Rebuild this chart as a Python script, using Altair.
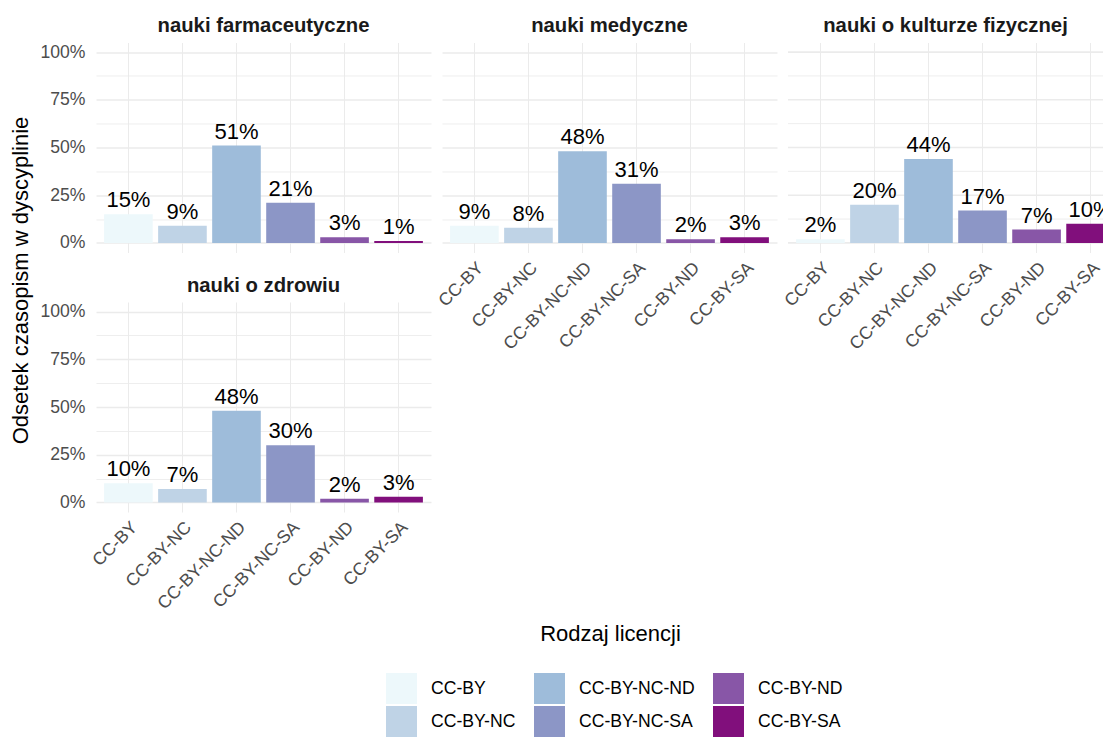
import altair as alt
import pandas as pd

licenses = ["CC-BY", "CC-BY-NC", "CC-BY-NC-ND", "CC-BY-NC-SA", "CC-BY-ND", "CC-BY-SA"]
disciplines = ["nauki farmaceutyczne", "nauki medyczne", "nauki o kulturze fizycznej", "nauki o zdrowiu"]
share_farm = [15, 9, 51, 21, 3, 1]
share_med = [9, 8, 48, 31, 2, 3]
share_kult = [2, 20, 44, 17, 7, 10]
share_zdr = [10, 7, 48, 30, 2, 3]
colors = ["#edf8fb", "#bfd3e6", "#9ebcda", "#8c96c6", "#8856a7", "#810f7c"]
y_ticks = [0, 0.125, 0.25, 0.375, 0.5, 0.625, 0.75, 0.875, 1]

FONT = "Liberation Sans"
PW = 335
PH = 210
GRID = "#ebebeb"
MAJOR_TEST = "(datum.value*100) % 25 == 0"


def panel(name, values, show_x, show_y, width=PW, ytitle=False, xtitle=False, own_grid=False):
    df = pd.DataFrame({"licencja": licenses, "odsetek": [v / 100 for v in values]})
    xaxis_kw = dict(
        labels=show_x, ticks=False, domain=False, grid=True, tickSize=0,
        labelAngle=315, labelAlign="right", labelBaseline="top",
        labelFontSize=17.6, labelColor="#4d4d4d", labelFont=FONT,
        labelPadding=6, labelOffset=0,
    )
    if xtitle:
        xaxis_kw.update(title="Rodzaj licencji", titleX=514, titleY=128,
                        titleAlign="center", titleBaseline="alphabetic", titleAngle=0,
                        titleFontSize=22, titleFontWeight="normal", titleColor="black",
                        titleFont=FONT)
    else:
        xaxis_kw.update(title=None)
    yaxis_kw = dict(
        values=y_ticks, format=".0%",
        labelExpr=f"{MAJOR_TEST} ? datum.label : ''",
        labels=show_y, ticks=False, tickSize=0, domain=False, grid=True,
        labelFontSize=17.6, labelColor="#4d4d4d", labelFont=FONT, labelPadding=11,
        gridWidth={"condition": {"test": MAJOR_TEST, "value": 1.7}, "value": 0.85},
    )
    if ytitle:
        yaxis_kw.update(title="Odsetek czasopism w dyscyplinie", titleX=-75.5, titleY=237.5,
                        titleAngle=270, titleAlign="center", titleBaseline="middle",
                        titleFontSize=22, titleFontWeight="normal", titleColor="black",
                        titleFont=FONT)
    else:
        yaxis_kw.update(title=None)

    yscale = alt.Scale(domain=[-0.05, 1.05], nice=False, zero=False)
    x = alt.X("licencja:N", sort=licenses,
              scale=alt.Scale(domain=licenses, paddingInner=0.1, paddingOuter=0.15,
                              range=[0, PW]),
              axis=alt.Axis(**xaxis_kw))
    y = alt.Y("odsetek:Q", scale=yscale,
              axis=None if own_grid else alt.Axis(**yaxis_kw))
    color = alt.Color(
        "licencja:N",
        scale=alt.Scale(domain=licenses, range=colors),
        legend=alt.Legend(
            title=None, orient="none", legendX=290, legendY=630.5, columns=3,
            symbolType="square", symbolSize=961, symbolStrokeWidth=0, symbolOpacity=1,
            labelFontSize=17.6, labelFont=FONT, labelColor="black", labelOffset=14,
            columnPadding=18, rowPadding=2,
        ),
    )
    bars = alt.Chart(df).mark_bar(clip=True).encode(x=x, y=y, y2=alt.datum(0), color=color)
    text = alt.Chart(df).mark_text(
        clip=True, baseline="alphabetic", dy=-7, fontSize=22, font=FONT, color="black"
    ).encode(x=x, y=y, text=alt.Text("odsetek:Q", format=".0%"))
    layers = [bars, text]
    if own_grid:
        grid = alt.Chart(pd.DataFrame({"value": y_ticks})).mark_rule(color=GRID).encode(
            y=alt.Y("value:Q", scale=yscale, axis=None),
            x=alt.value(0), x2=alt.value(width),
            strokeWidth=alt.condition(MAJOR_TEST, alt.value(1.7), alt.value(0.85)),
        )
        layers = [grid] + layers
    return alt.layer(*layers).properties(
        width=width, height=PH,
        title=alt.TitleParams(text=name, anchor="middle", fontSize=20.3, fontWeight="bold",
                              font=FONT, color="#1a1a1a", baseline="alphabetic",
                              offset=11, dy=21),
    )


p1 = panel(disciplines[0], share_farm, show_x=False, show_y=True, ytitle=True)
p2 = panel(disciplines[1], share_med, show_x=True, show_y=False)
p3 = panel(disciplines[2], share_kult, show_x=True, show_y=False, width=315, own_grid=True)
p4 = panel(disciplines[3], share_zdr, show_x=True, show_y=True, xtitle=True)

chart = alt.concat(
    p1, p2, p3, p4, columns=3,
    spacing={"row": 49.5, "column": 11},
    bounds="flush", align="each",
).properties(
    autosize=alt.AutoSizeParams(type="none"),
    padding={"left": 88, "top": 34.5, "right": 1007, "bottom": 694.5},
    background="white",
).configure_view(stroke=None).configure_axis(gridColor=GRID)

chart.save("out.html", embed_options={"renderer": "svg", "actions": False})
